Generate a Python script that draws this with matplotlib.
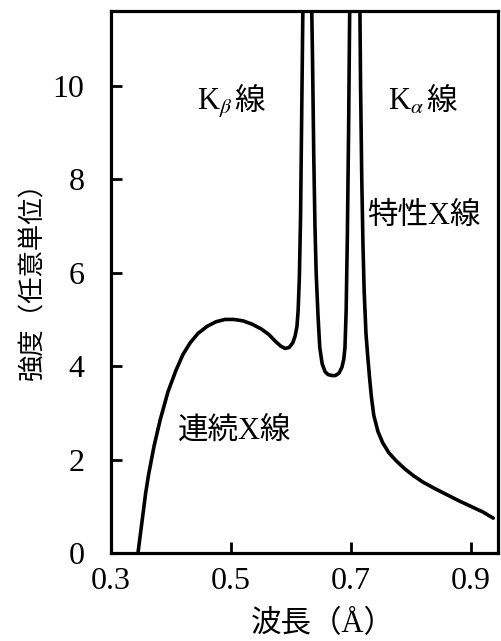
import matplotlib.pyplot as plt
import numpy as np

# wavelength (A) and intensity (arb. units)
wavelength = [0.345, 0.352, 0.358, 0.363, 0.372, 0.382, 0.395, 0.408, 0.42, 0.432, 0.445,
              0.46, 0.475, 0.49, 0.505, 0.52, 0.535, 0.55, 0.563, 0.575, 0.583, 0.59,
              0.597, 0.603, 0.607, 0.610, 0.612, 0.614, 0.616, 0.618, 0.621, 0.627,
              0.633, 0.636, 0.638, 0.640, 0.642, 0.645, 0.648, 0.652, 0.657, 0.662,
              0.668, 0.674, 0.680, 0.685, 0.688, 0.690, 0.692, 0.694, 0.696, 0.698,
              0.706, 0.714, 0.716, 0.718, 0.720, 0.722, 0.725, 0.728, 0.731, 0.734,
              0.738, 0.745, 0.753, 0.763, 0.775, 0.79, 0.805, 0.82, 0.84, 0.86, 0.88,
              0.90, 0.92, 0.937]
intensity = [0.0, 0.7, 1.3, 1.7, 2.3, 2.85, 3.45, 3.9, 4.25, 4.5, 4.7,
             4.85, 4.95, 5.0, 5.0, 4.97, 4.9, 4.8, 4.68, 4.52, 4.43, 4.38,
             4.4, 4.5, 4.65, 4.85, 5.2, 5.9, 7.2, 9.5, 13.0, 20.0,
             13.0, 10.5, 8.5, 7.0, 6.0, 5.1, 4.4, 4.05, 3.88, 3.82,
             3.8, 3.8, 3.85, 3.98, 4.15, 4.4, 5.2, 6.8, 9.0, 11.8,
             20.0, 13.0, 10.0, 8.0, 6.6, 5.6, 4.7, 4.2, 3.75, 3.35,
             2.95, 2.6, 2.36, 2.15, 1.98, 1.8, 1.65, 1.52, 1.38, 1.25, 1.12,
             1.0, 0.88, 0.75]

x_ticks = [0.3, 0.5, 0.7, 0.9]
y_ticks = [0, 2, 4, 6, 8, 10]

serif = ['Liberation Serif', 'Noto Sans CJK JP', 'DejaVu Sans']
plt.rcParams['font.family'] = serif
plt.rcParams['mathtext.fontset'] = 'stix'

fig = plt.figure(figsize=(5.02, 6.41), dpi=100)
ax = fig.add_axes([0.221, 0.137, 0.771, 0.846])

ax.plot(wavelength, intensity, color='black', lw=2.6, solid_capstyle='round')

ax.set_xlim(0.3, 0.945)
ax.set_ylim(0, 11.6)
ax.set_xticks(x_ticks)
ax.set_xticklabels([str(t) for t in x_ticks])
ax.set_yticks(y_ticks)

for s in ax.spines.values():
    s.set_linewidth(2.3)
ax.tick_params(axis='x', direction='in', length=8, width=2, pad=10, labelsize=23)
ax.tick_params(axis='y', direction='in', length=8, width=2, pad=19, labelsize=23)

ax.set_xlabel('波長（Å）', fontsize=22)
ax.xaxis.set_label_coords(0.548, -0.105)
ax.set_ylabel('強度（任意単位）', fontsize=19)
ax.yaxis.set_label_coords(-0.17, 0.513)

# K lines: subscript via mathtext, kanji as separate text
ax.text(0.443, 9.64, 'K$_{\\beta}$', fontsize=22, va='center')
ax.text(0.506, 9.64, '線', fontsize=22, va='center')
ax.text(0.762, 9.64, 'K$_{\\alpha}$', fontsize=22, va='center')
ax.text(0.825, 9.64, '線', fontsize=22, va='center')
ax.text(0.727, 7.2, '特性X線', fontsize=22, va='center')
ax.text(0.412, 2.6, '連続X線', fontsize=22, va='center')

plt.savefig('out.png', dpi=100)
